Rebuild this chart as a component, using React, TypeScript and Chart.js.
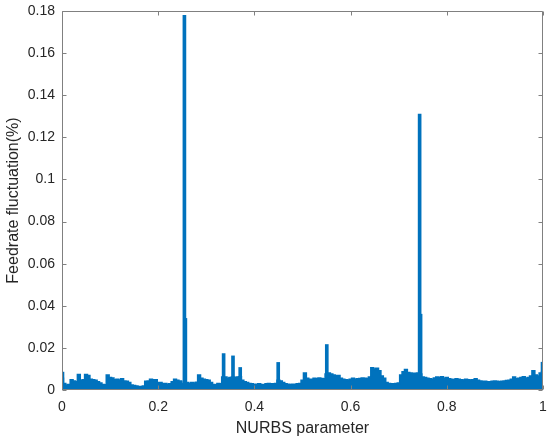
import React, { useEffect, useRef } from "react";
import { Chart, registerables } from "chart.js";

Chart.register(...registerables);

// NURBS parameter sampling (step 0.005 from 0 to 1)
const X_MIN = 0;
const X_MAX = 1;
const X_STEP = 0.005;

// Upper envelope of the (very dense) feedrate fluctuation trace near the baseline, in %
const fluctuation: number[] = [
  0.0055, 0.003, 0.0022, 0.0025, 0.0048, 0.0042, 0.0038, 0.0072, 0.0045, 0.0048,
  0.0072, 0.0068, 0.005, 0.0048, 0.0045, 0.0038, 0.0032, 0.0025, 0.0024, 0.007,
  0.0058, 0.0056, 0.0048, 0.005, 0.0046, 0.0052, 0.0042, 0.004, 0.0035, 0.0022,
  0.002, 0.0018, 0.0015, 0.0015, 0.0018, 0.004, 0.0042, 0.005, 0.0048, 0.0048,
  0.0035, 0.0035, 0.003, 0.003, 0.0026, 0.0028, 0.0038, 0.005, 0.0045, 0.0042,
  0.003, 0.004, 0.0035, 0.003, 0.0035, 0.0032, 0.0036, 0.007, 0.0055, 0.005,
  0.0048, 0.0045, 0.0035, 0.0025, 0.0024, 0.003, 0.0028, 0.006, 0.006, 0.0055,
  0.0058, 0.006, 0.0058, 0.006, 0.0062, 0.0045, 0.0038, 0.0035, 0.003, 0.0028,
  0.0025, 0.0026, 0.0028, 0.0025, 0.0024, 0.0028, 0.003, 0.0028, 0.0028, 0.003,
  0.0045, 0.0042, 0.0035, 0.0028, 0.0026, 0.0025, 0.0026, 0.0026, 0.0028, 0.003,
  0.0045, 0.008, 0.0055, 0.005, 0.005, 0.0055, 0.0052, 0.0056, 0.0054, 0.0052,
  0.0075, 0.008, 0.0075, 0.007, 0.0068, 0.0068, 0.0055, 0.005, 0.0048, 0.0046,
  0.005, 0.0055, 0.005, 0.0052, 0.0054, 0.0056, 0.0055, 0.0054, 0.006, 0.0104,
  0.0098, 0.0102, 0.009, 0.0065, 0.0055, 0.0035, 0.003, 0.0028, 0.0028, 0.003,
  0.0032, 0.007, 0.0085, 0.0096, 0.0082, 0.008, 0.0078, 0.0078, 0.008, 0.0075,
  0.006, 0.0058, 0.0055, 0.0052, 0.005, 0.0056, 0.006, 0.0058, 0.0062, 0.0055,
  0.0058, 0.0052, 0.005, 0.0048, 0.0052, 0.005, 0.0048, 0.0046, 0.005, 0.0048,
  0.0046, 0.0048, 0.0052, 0.0045, 0.0042, 0.004, 0.004, 0.0038, 0.0038, 0.004,
  0.0042, 0.004, 0.0038, 0.004, 0.0042, 0.0044, 0.0045, 0.005, 0.006, 0.0052,
  0.0055, 0.0058, 0.0062, 0.0055, 0.0058, 0.0065, 0.009, 0.007, 0.0065, 0.008,
  0.0085,
];

// Narrow spikes of the trace: NURBS parameter and peak fluctuation (%)
const spikeParams: number[] = [0.001, 0.2545, 0.2565, 0.336, 0.3555, 0.3705, 0.4495, 0.5505, 0.7435, 0.7455, 0.999];
const spikeValues: number[] = [0.0085, 0.178, 0.034, 0.0173, 0.0162, 0.0107, 0.0131, 0.0216, 0.131, 0.036, 0.0132];

const Y_MIN = 0;
const Y_MAX = 0.18;
const Y_STEP = 0.02;
const X_TICK_STEP = 0.2;

const X_TITLE = "NURBS parameter";
const Y_TITLE = "Feedrate fluctuation(%)";

const LINE_COLOR = "#0072BD";
const AXIS_COLOR = "#808080";
const TEXT_COLOR = "#262626";
const FONT = "'Liberation Sans', Arial, Helvetica, sans-serif";

const fmt = (v: number) => String(Number(Number(v).toFixed(3)));

const boxPlugin = {
  id: "matlabBox",
  afterDatasetsDraw(chart: any) {
    const { ctx, chartArea: a, scales } = chart;
    const xs = scales.x;
    const ys = scales.y;
    const L = Math.round(a.left) + 0.5;
    const R = Math.round(a.right) - 0.5;
    const T = Math.round(a.top) + 0.5;
    const B = Math.round(a.bottom) - 0.5;
    const len = 4;
    ctx.save();
    ctx.strokeStyle = AXIS_COLOR;
    ctx.lineWidth = 1;
    ctx.beginPath();
    ctx.moveTo(L, T);
    ctx.lineTo(R, T);
    ctx.lineTo(R, B);
    ctx.lineTo(L, B);
    ctx.closePath();
    xs.ticks.forEach((t: any) => {
      const px = Math.round(xs.getPixelForValue(t.value)) + 0.5;
      ctx.moveTo(px, B);
      ctx.lineTo(px, B - len);
      ctx.moveTo(px, T);
      ctx.lineTo(px, T + len);
    });
    ys.ticks.forEach((t: any) => {
      const py = Math.round(ys.getPixelForValue(t.value)) + 0.5;
      ctx.moveTo(L, py);
      ctx.lineTo(L + len, py);
      ctx.moveTo(R, py);
      ctx.lineTo(R - len, py);
    });
    ctx.stroke();
    ctx.restore();
  },
};

export default function App() {
  const ref = useRef<HTMLCanvasElement | null>(null);

  useEffect(() => {
    document.body.style.margin = "0";
    const canvas = ref.current;
    if (!canvas) return;
    const points = fluctuation.map((y, i) => ({ x: X_MIN + i * X_STEP, y }));
    const spikes = spikeParams.map((x, i) => ({ x, y: spikeValues[i] }));
    const chart = new Chart(canvas, {
      type: "line",
      data: {
        datasets: [
          {
            type: "line",
            data: points,
            borderColor: LINE_COLOR,
            backgroundColor: LINE_COLOR,
            borderWidth: 2,
            pointRadius: 0,
            stepped: "middle",
            fill: "origin",
          },
          {
            type: "bar",
            data: spikes,
            backgroundColor: LINE_COLOR,
            borderWidth: 0,
            barThickness: 3,
            grouped: false,
          } as any,
        ],
      },
      options: {
        animation: false,
        responsive: false,
        maintainAspectRatio: false,
        devicePixelRatio: 1,
        layout: { padding: { top: 11, right: 7, left: 0, bottom: 0 } },
        plugins: {
          legend: { display: false },
          tooltip: { enabled: false },
          filler: { propagate: false },
        },
        scales: {
          x: {
            type: "linear",
            min: X_MIN,
            max: X_MAX,
            offset: false,
            afterFit: (s: any) => {
              s.height = 51;
              s.paddingLeft = 0;
              s.paddingRight = 0;
            },
            grid: { display: false, drawTicks: false, offset: false },
            border: { display: false },
            ticks: {
              stepSize: X_TICK_STEP,
              padding: 9,
              color: TEXT_COLOR,
              font: { family: FONT, size: 14 },
              maxRotation: 0,
              callback: (v: any) => fmt(v),
            },
            title: {
              display: true,
              text: X_TITLE,
              color: TEXT_COLOR,
              font: { family: FONT, size: 16 },
              padding: { top: 0, bottom: 3 },
            },
          },
          y: {
            type: "linear",
            min: Y_MIN,
            max: Y_MAX,
            afterFit: (s: any) => {
              s.width = 62;
              s.paddingTop = 0;
              s.paddingBottom = 0;
            },
            grid: { display: false, drawTicks: false },
            border: { display: false },
            ticks: {
              stepSize: Y_STEP,
              padding: 7,
              color: TEXT_COLOR,
              font: { family: FONT, size: 14 },
              callback: (v: any) => fmt(v),
            },
            title: {
              display: true,
              text: Y_TITLE,
              color: TEXT_COLOR,
              font: { family: FONT, size: 16 },
              padding: { top: 4, bottom: 0 },
            },
          },
        },
      },
      plugins: [boxPlugin],
    });
    return () => chart.destroy();
  }, []);

  return (
    <div style={{ position: "absolute", left: 0, top: 0, width: 550, height: 441, background: "#fff" }}>
      <canvas ref={ref} width={550} height={441} style={{ display: "block", width: 550, height: 441 }} />
    </div>
  );
}
